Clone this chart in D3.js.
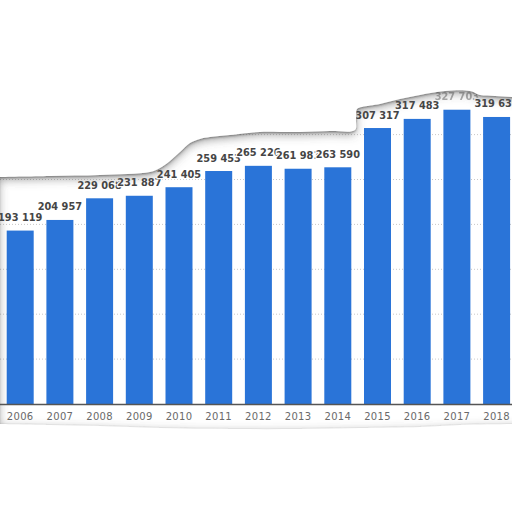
<!DOCTYPE html>
<html><head><meta charset="utf-8">
<script src="https://cdn.jsdelivr.net/npm/d3@7"></script>
<style>html,body{margin:0;padding:0;background:#fff;overflow:hidden}svg{display:block}</style>
</head><body>
<svg id="c" width="512" height="512"></svg>
<script>
const years = ["2006","2007","2008","2009","2010","2011","2012","2013","2014","2015","2016","2017","2018"];
const values = [193119,204957,229068,231887,241405,259453,265226,261981,263590,307317,317483,327703,319630];
const gridTicks = [50000,100000,150000,200000,250000,300000,350000];

const svg = d3.select("#c");
const W = 512, H = 512;
const x0 = 6.7, step = 39.7, pin = 0.32;
const x = d3.scaleBand().domain(years).range([x0, x0 + step*(years.length - pin)]).paddingInner(pin).paddingOuter(0);
const y = d3.scaleLinear().domain([0, 350000]).range([404, 404 - 350000*0.000898]);

// gridlines
svg.append("g").selectAll("line").data(gridTicks).join("line")
  .attr("x1", 0).attr("x2", W)
  .attr("y1", d => y(d)).attr("y2", d => y(d))
  .attr("stroke", "#c8c8c8").attr("stroke-width", 1).attr("stroke-dasharray", "1,2");

// bars
svg.append("g").selectAll("rect").data(values).join("rect")
  .attr("x", (d,i) => x(years[i])).attr("width", x.bandwidth())
  .attr("y", d => y(d)).attr("height", d => y(0) - y(d))
  .attr("fill", "#2a74d8");

// axis line
svg.append("line").attr("x1", 0).attr("x2", W).attr("y1", y(0)+0.5).attr("y2", y(0)+0.5)
  .attr("stroke", "#555").attr("stroke-width", 1.3);

// x axis labels
const ax = svg.append("g").attr("transform", `translate(0,${y(0)})`)
  .call(d3.axisBottom(x).tickSize(0).tickPadding(9));
ax.select(".domain").remove();
ax.selectAll("text").attr("font-family", "DejaVu Sans").attr("font-size", "10px").attr("fill", "#6a6a6a")
  .attr("letter-spacing", "0.3px");

// value labels
const fmt = v => d3.format(",")(v).replace(/,/g, " ");
const maxV = d3.max(values);
svg.append("g").selectAll("text").data(values).join("text")
  .attr("x", (d,i) => x(years[i]) + x.bandwidth()/2)
  .attr("y", d => y(d) - 9.5)
  .attr("text-anchor", "middle")
  .attr("font-family", "DejaVu Sans").attr("font-weight", "bold").attr("font-size", "9.8px")
  .attr("fill", "#454545")
  .attr("stroke", "#fff").attr("stroke-width", 2.5).attr("paint-order", "stroke")
  .attr("opacity", d => d === maxV ? 0.45 : 1)
  .text(fmt);

// torn paper frame
const defs = svg.append("defs");
const f = defs.append("filter").attr("id", "sh").attr("x", "-20%").attr("y", "-20%").attr("width", "140%").attr("height", "140%");
f.append("feGaussianBlur").attr("in", "SourceAlpha").attr("stdDeviation", 5).attr("result", "b1");
f.append("feOffset").attr("in", "b1").attr("dy", 3).attr("result", "o1");
f.append("feFlood").attr("flood-color", "#555").attr("flood-opacity", 0.55).attr("result", "c1");
f.append("feComposite").attr("in", "c1").attr("in2", "o1").attr("operator", "in").attr("result", "s1");
f.append("feGaussianBlur").attr("in", "SourceAlpha").attr("stdDeviation", 1.2).attr("result", "b2");
f.append("feOffset").attr("in", "b2").attr("dy", 1).attr("result", "o2");
f.append("feFlood").attr("flood-color", "#444").attr("flood-opacity", 0.6).attr("result", "c2");
f.append("feComposite").attr("in", "c2").attr("in2", "o2").attr("operator", "in").attr("result", "s2");
const m = f.append("feMerge");
m.append("feMergeNode").attr("in", "s1");
m.append("feMergeNode").attr("in", "s2");
m.append("feMergeNode").attr("in", "SourceGraphic");

const topEdge = [[530,97],[512,97],[495,96],[480,95],[470,91],[445,91],[420,95],[400,99],[380,104],[362,107],[357,109],[356,120],[355,130],[330,131],[300,132],[280,132],[260,132],[230,135],[210,137],[200,139],[190,143],[180,152],[170,161],[160,168],[150,172],[100,175],[50,176],[0,177]];
const botEdge = [[0,424],[50,425],[100,426],[160,428],[230,429],[300,429],[360,428],[420,427],[460,425],[512,424],[530,424]];
const line = d3.line().curve(d3.curveCatmullRom);
const outer = `M-40,-40H${W+40}V${H+40}H-40Z`;
svg.append("path")
  .attr("d", outer + " " + line(topEdge) + "L-1,177L-1,424" + line(botEdge).replace(/^M/, "L") + "Z")
  .attr("fill", "#fff").attr("fill-rule", "evenodd")
  .attr("filter", "url(#sh)");
</script>
</body></html>
